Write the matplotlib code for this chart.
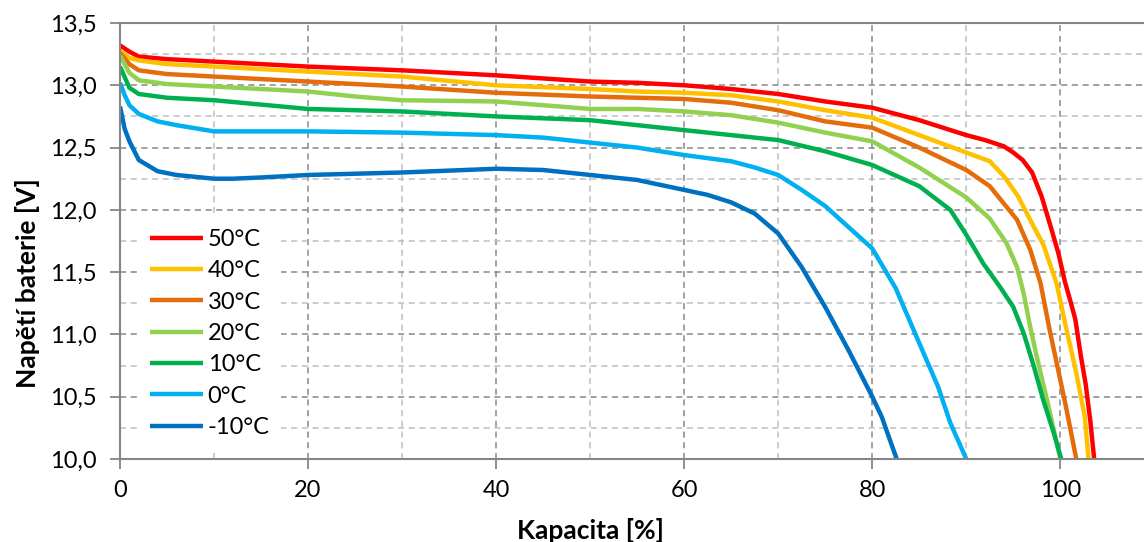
import matplotlib
matplotlib.use('Agg')
import matplotlib.pyplot as plt
from matplotlib.ticker import MultipleLocator, FixedLocator, FixedFormatter

plt.rcParams['font.family'] = ['Lato', 'DejaVu Sans']

# temperature series (capacity in %, voltage in V)
labels = ['50°C', '40°C', '30°C', '20°C', '10°C', '0°C', '-10°C']
colors = ['#FF0000', '#FFC000', '#E46C0A', '#92D050', '#00B050', '#00B0F0', '#0070C0']

x_50 = [0, 1, 2, 5, 10, 20, 30, 40, 50, 55, 60, 65, 70, 75, 80, 85, 90, 92, 94, 95, 96, 97, 98, 99,
        99.8, 100.5, 101.1, 101.6, 102.2, 102.7, 103.2, 103.6]
y_50 = [13.32, 13.27, 13.23, 13.21, 13.19, 13.15, 13.12, 13.08, 13.03, 13.02, 13.00, 12.97, 12.93,
        12.87, 12.82, 12.72, 12.60, 12.56, 12.51, 12.46, 12.40, 12.30, 12.11, 11.86,
        11.65, 11.42, 11.26, 11.12, 10.82, 10.60, 10.30, 10.00]

x_40 = [0, 1, 2, 5, 10, 20, 30, 40, 50, 55, 60, 65, 70, 75, 80, 85, 90, 92.5, 94, 95.5, 97, 98.2,
        99.6, 100.6, 101.7, 102.6, 103.0]
y_40 = [13.28, 13.22, 13.20, 13.17, 13.15, 13.11, 13.07, 13.00, 12.97, 12.95, 12.94, 12.92, 12.87,
        12.80, 12.74, 12.60, 12.46, 12.39, 12.27, 12.11, 11.89, 11.72, 11.41, 11.06, 10.69, 10.34,
        10.00]

x_30 = [0, 1, 2, 5, 10, 20, 30, 40, 50, 55, 60, 65, 70, 75, 80, 85, 90, 92.5, 94, 95.4, 96.8, 97.9,
        98.8, 99.7, 100.6, 101.7]
y_30 = [13.26, 13.17, 13.12, 13.09, 13.07, 13.03, 12.99, 12.94, 12.91, 12.90, 12.89, 12.86, 12.80,
        12.71, 12.66, 12.50, 12.32, 12.19, 12.05, 11.92, 11.68, 11.41, 11.06, 10.74, 10.42, 10.00]

x_20 = [0, 1, 2, 5, 10, 20, 25, 30, 40, 50, 55, 60, 65, 70, 75, 80, 85, 90, 92.5, 94.3, 95.4, 96.1,
        96.8, 97.5, 98.6, 100.0]
y_20 = [13.24, 13.10, 13.04, 13.01, 12.99, 12.95, 12.91, 12.88, 12.87, 12.81, 12.81, 12.79, 12.76,
        12.70, 12.62, 12.55, 12.34, 12.10, 11.93, 11.73, 11.54, 11.33, 11.06, 10.82, 10.47, 10.00]

x_10 = [0, 1, 2, 5, 10, 20, 30, 40, 50, 55, 60, 65, 70, 75, 80, 85, 88.3, 90, 91.8, 93.6, 95.0,
        96.1, 97.2, 98.2, 99.3, 100.1]
y_10 = [13.15, 12.98, 12.93, 12.90, 12.88, 12.81, 12.79, 12.75, 12.72, 12.68, 12.64, 12.60, 12.56,
        12.47, 12.36, 12.19, 12.00, 11.80, 11.57, 11.38, 11.22, 11.01, 10.74, 10.47, 10.21, 10.00]

x_0 = [0, 0.5, 1, 2, 4, 6, 10, 20, 30, 40, 45, 50, 55, 60, 65, 67.5, 70, 72.5, 75, 77.5, 80, 82.5,
       85, 87, 88.3, 90.0]
y_0 = [13.02, 12.92, 12.84, 12.77, 12.71, 12.68, 12.63, 12.63, 12.62, 12.60, 12.58, 12.54, 12.50,
       12.44, 12.39, 12.34, 12.28, 12.16, 12.03, 11.86, 11.69, 11.37, 10.93, 10.58, 10.29, 10.00]

x_m10 = [0, 0.5, 1, 2, 4, 6, 10, 12, 15, 20, 30, 40, 45, 50, 55, 60, 62.5, 65, 67.5, 70, 72.5, 75,
         77.5, 80, 81, 82.6]
y_m10 = [12.83, 12.65, 12.55, 12.40, 12.31, 12.28, 12.25, 12.25, 12.26, 12.28, 12.30, 12.33, 12.32,
         12.28, 12.24, 12.16, 12.12, 12.06, 11.97, 11.81, 11.54, 11.22, 10.87, 10.50, 10.34, 10.00]

xs = [x_50, x_40, x_30, x_20, x_10, x_0, x_m10]
ys = [y_50, y_40, y_30, y_20, y_10, y_0, y_m10]

y_ticks = [10.0, 10.5, 11.0, 11.5, 12.0, 12.5, 13.0, 13.5]
y_tick_labels = ['10,0', '10,5', '11,0', '11,5', '12,0', '12,5', '13,0', '13,5']
x_ticks = [0, 20, 40, 60, 80, 100]
x_tick_labels = ['0', '20', '40', '60', '80', '100']

W, H = 1144, 542
fig = plt.figure(figsize=(W / 100, H / 100), dpi=100)
ax = fig.add_axes([120 / W, 1 - 459 / H, 1024 / W, 436 / H])

for x, y, c, lab in zip(xs, ys, colors, labels):
    ax.plot(x, y, color=c, lw=3.2, label=lab, solid_capstyle='butt', solid_joinstyle='round')

ax.set_xlim(0, 108.9)
ax.set_ylim(10, 13.5)

ax.xaxis.set_major_locator(FixedLocator(x_ticks))
ax.xaxis.set_major_formatter(FixedFormatter(x_tick_labels))
ax.xaxis.set_minor_locator(MultipleLocator(10))
ax.yaxis.set_major_locator(FixedLocator(y_ticks))
ax.yaxis.set_major_formatter(FixedFormatter(y_tick_labels))
ax.yaxis.set_minor_locator(MultipleLocator(0.25))

ax.grid(which='major', color='#878787', linestyle=(0, (4, 3)), lw=1.1)
ax.grid(which='minor', color='#BEBEBE', linestyle=(0, (4, 3)), lw=1.1)
ax.set_axisbelow(True)

for side in ['left', 'bottom', 'top']:
    ax.spines[side].set_color('#868686')
    ax.spines[side].set_linewidth(1.5)
ax.spines['right'].set_visible(False)

ax.tick_params(which='major', direction='out', length=7, width=1.3, color='#868686', labelsize=17)
ax.tick_params(which='minor', length=0)
ax.tick_params(axis='y', pad=10)
ax.tick_params(axis='x', pad=8)

ax.set_ylabel('Napětí baterie [V]', fontsize=19, fontweight='bold')
ax.yaxis.set_label_coords(-0.078, 0.404)
ax.set_xlabel('Kapacita [%]', fontsize=19, fontweight='bold')
ax.xaxis.set_label_coords(50 / 108.9, -0.136)

leg = ax.legend(loc='upper left', bbox_to_anchor=(18 / 1024, (459 - 217) / 436), fontsize=17,
                frameon=True, edgecolor='none', facecolor='white', framealpha=1,
                borderaxespad=0, borderpad=0.5, handlelength=2.25, handletextpad=0.2,
                labelspacing=0.44)

fig.savefig('out.png', dpi=100)
